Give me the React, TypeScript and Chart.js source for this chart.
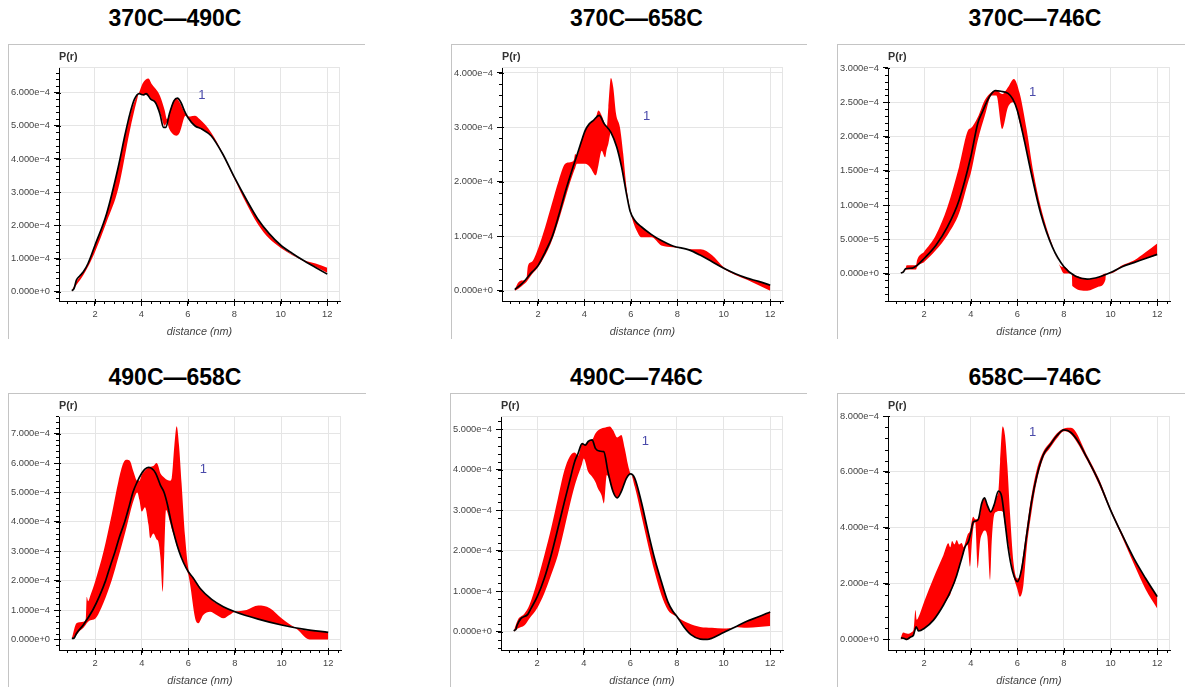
import React, { useEffect, useRef } from 'react';
import { Chart, registerables } from 'chart.js';
Chart.register(...registerables);

const FONT = '"Liberation Sans", Arial, Helvetica, sans-serif';
const UNIT = 1e-4; // values below are in units of 1e-4

const X_MIN = 0.45;
const X_MAX = 12.55;
const X_TICKS = [2, 4, 6, 8, 10, 12];
const X_LABEL = 'distance (nm)';
const Y_LABEL = 'P(r)';
const MARK_TEXT = '1';

// ---------- 370C—490C ----------
const P1_TITLE = '370C\u2014490C';
const P1_LINE_X = [1.0, 1.1, 1.2, 1.35, 1.5, 1.7, 2.0, 2.5, 3.0, 3.3, 3.5, 3.7, 3.9, 4.0, 4.1, 4.2, 4.4, 4.6, 4.8, 4.95, 5.05, 5.2, 5.4, 5.55, 5.7, 5.85, 6.0, 6.3, 6.6, 7.0, 7.5, 8.0, 8.5, 9.0, 9.5, 10, 10.5, 11, 11.5, 12];
const P1_LINE_Y = [0.03, 0.1, 0.35, 0.48, 0.6, 0.85, 1.4, 2.35, 3.75, 4.75, 5.35, 5.8, 5.97, 5.94, 5.93, 5.97, 5.8, 5.7, 5.35, 4.95, 4.95, 5.35, 5.75, 5.83, 5.7, 5.45, 5.25, 5.0, 4.9, 4.7, 4.15, 3.45, 2.8, 2.2, 1.75, 1.4, 1.15, 0.93, 0.73, 0.53];
const P1_BAND_X = [1.0, 1.2, 1.5, 1.7, 2.0, 2.5, 3.0, 3.5, 3.8, 3.9, 4.05, 4.3, 4.45, 4.6, 4.8, 5.0, 5.1, 5.2, 5.35, 5.5, 5.65, 5.9, 6.1, 6.3, 6.5, 7.0, 7.5, 8.0, 8.5, 9.0, 9.5, 10, 10.5, 11, 11.5, 12];
const P1_BAND_HI = [0.03, 0.3, 0.6, 0.85, 1.4, 2.35, 3.75, 5.3, 5.9, 6.0, 6.27, 6.42, 6.25, 6.12, 5.9, 5.47, 5.2, 5.35, 5.7, 5.82, 5.7, 5.35, 5.28, 5.3, 5.2, 4.8, 4.18, 3.45, 2.78, 2.18, 1.72, 1.38, 1.12, 0.95, 0.85, 0.72];
const P1_BAND_LO = [0.0, 0.2, 0.5, 0.75, 1.2, 2.1, 3.1, 4.85, 5.75, 5.97, 5.94, 5.9, 5.8, 5.7, 5.4, 5.0, 5.1, 4.9, 4.75, 4.7, 4.8, 5.3, 5.15, 5.0, 4.92, 4.7, 4.12, 3.4, 2.68, 2.05, 1.6, 1.32, 1.1, 0.92, 0.75, 0.57];
const P1_Y_TICKS = [0, 1, 2, 3, 4, 5, 6];
const P1_Y_MIN = -0.28;
const P1_Y_MAX = 6.77;
const P1_MARK = [6.6, 5.92];

// ---------- 370C—658C ----------
const P2_TITLE = '370C\u2014658C';
const P2_LINE_X = [1.0, 1.31, 1.74, 2.0, 2.31, 2.6, 2.89, 3.17, 3.46, 3.67, 3.86, 4.03, 4.2, 4.39, 4.63, 4.86, 5.14, 5.39, 5.6, 5.81, 5.96, 6.17, 6.46, 6.89, 7.31, 7.81, 8.5, 9.0, 9.5, 10, 10.5, 11, 11.5, 12];
const P2_LINE_Y = [0.02, 0.13, 0.34, 0.46, 0.71, 0.98, 1.38, 1.81, 2.21, 2.48, 2.73, 2.94, 3.06, 3.13, 3.22, 3.06, 2.91, 2.64, 2.27, 1.78, 1.47, 1.29, 1.17, 1.03, 0.92, 0.82, 0.75, 0.65, 0.53, 0.41, 0.31, 0.23, 0.17, 0.1];
const P2_BAND_X = [1.0, 1.17, 1.39, 1.5, 1.57, 1.74, 2.0, 2.31, 2.6, 2.89, 3.17, 3.39, 3.55, 3.6, 3.67, 3.86, 4.03, 4.24, 4.49, 4.6, 4.74, 4.89, 4.96, 5.03, 5.14, 5.24, 5.36, 5.53, 5.67, 5.81, 6.0, 6.24, 6.46, 6.89, 7.31, 7.81, 8.5, 9.0, 9.5, 10, 10.5, 11, 11.5, 12];
const P2_BAND_HI = [0.02, 0.16, 0.19, 0.22, 0.46, 0.53, 0.77, 1.17, 1.6, 2.02, 2.33, 2.36, 2.4, 2.51, 2.48, 2.73, 2.94, 3.07, 3.18, 3.31, 3.22, 3.05, 3.0, 3.37, 3.91, 3.74, 3.25, 3.0, 2.51, 1.9, 1.45, 1.26, 1.17, 1.03, 0.92, 0.82, 0.76, 0.76, 0.65, 0.43, 0.31, 0.23, 0.17, 0.1];
const P2_BAND_LO = [0.0, 0.04, 0.12, 0.16, 0.2, 0.3, 0.43, 0.65, 0.92, 1.29, 1.69, 2.0, 2.2, 2.25, 2.33, 2.33, 2.33, 2.27, 2.12, 2.3, 2.57, 2.45, 2.6, 2.7, 2.91, 2.8, 2.68, 2.4, 2.1, 1.78, 1.4, 1.11, 0.98, 0.98, 0.83, 0.8, 0.75, 0.65, 0.53, 0.4, 0.29, 0.2, 0.1, 0.0];
const P2_Y_TICKS = [0, 1, 2, 3, 4];
const P2_Y_MIN = -0.19;
const P2_Y_MAX = 4.11;
const P2_MARK = [6.68, 3.2];

// ---------- 370C—746C ----------
const P3_TITLE = '370C\u2014746C';
const P3_LINE_X = [1.0, 1.1, 1.2, 1.5, 1.7, 2.0, 2.5, 3.0, 3.5, 4.0, 4.3, 4.5, 4.8, 5.05, 5.3, 5.6, 5.8, 6.0, 6.3, 6.6, 7.0, 7.5, 8.0, 8.5, 9.0, 9.5, 10, 10.5, 11, 11.5, 12];
const P3_LINE_Y = [0.01, 0.02, 0.07, 0.08, 0.12, 0.22, 0.41, 0.68, 1.07, 1.7, 2.19, 2.36, 2.58, 2.67, 2.66, 2.63, 2.55, 2.38, 1.94, 1.46, 0.88, 0.39, 0.1, -0.04, -0.08, -0.05, 0.015, 0.1, 0.16, 0.22, 0.28];
const P3_BAND_X = [1.0, 1.2, 1.25, 1.65, 1.7, 2.0, 2.5, 3.0, 3.5, 3.9, 4.0, 4.3, 4.6, 4.9, 5.1, 5.35, 5.6, 5.85, 6.1, 6.4, 6.7, 7.0, 7.5, 7.9, 8.0, 8.3, 8.34, 8.36, 9.0, 9.5, 9.78, 9.8, 10, 10.2, 10.5, 11, 11.5, 12];
const P3_BAND_HI = [0.01, 0.07, 0.12, 0.12, 0.2, 0.32, 0.56, 0.97, 1.56, 2.1, 2.12, 2.28, 2.53, 2.65, 2.67, 2.62, 2.72, 2.84, 2.63, 2.1, 1.46, 0.98, 0.42, 0.1, 0.1, 0.0, -0.02, -0.02, -0.08, -0.05, 0.0, 0.0, 0.015, 0.05, 0.12, 0.19, 0.31, 0.44];
const P3_BAND_LO = [0.0, 0.05, 0.06, 0.06, 0.1, 0.17, 0.34, 0.56, 0.88, 1.35, 1.46, 1.94, 2.3, 2.6, 2.6, 2.11, 2.43, 2.5, 2.2, 1.8, 1.3, 0.88, 0.39, 0.05, 0.0, 0.0, -0.02, -0.18, -0.25, -0.19, -0.09, 0.0, 0.0, 0.03, 0.1, 0.16, 0.22, 0.27];
const P3_Y_TICKS = [0, 0.5, 1, 1.5, 2, 2.5, 3];
const P3_Y_MIN = -0.4;
const P3_Y_MAX = 3.014;
const P3_MARK = [6.66, 2.65];

// ---------- 490C—658C ----------
const P4_TITLE = '490C\u2014658C';
const P4_LINE_X = [1.0, 1.1, 1.15, 1.2, 1.5, 1.9, 2.2, 2.45, 2.65, 2.86, 3.05, 3.27, 3.45, 3.62, 3.8, 4.0, 4.15, 4.3, 4.45, 4.6, 4.8, 4.96, 5.1, 5.26, 5.43, 5.6, 5.8, 6.0, 6.2, 6.5, 7.0, 7.5, 8.0, 9.0, 10, 11, 12];
const P4_LINE_Y = [0.03, 0.05, 0.12, 0.2, 0.5, 1.0, 1.5, 2.0, 2.5, 3.0, 3.5, 4.0, 4.5, 5.0, 5.35, 5.65, 5.8, 5.85, 5.8, 5.65, 5.25, 5.0, 4.6, 4.0, 3.45, 3.0, 2.6, 2.3, 2.1, 1.74, 1.36, 1.11, 0.94, 0.69, 0.49, 0.34, 0.24];
const P4_BAND_X = [1.0, 1.2, 1.35, 1.5, 1.6, 1.64, 1.7, 1.8, 2.0, 2.36, 2.71, 3.0, 3.21, 3.36, 3.5, 3.64, 3.81, 3.9, 4.0, 4.14, 4.29, 4.36, 4.5, 4.64, 4.71, 4.8, 4.9, 4.97, 5.04, 5.21, 5.29, 5.4, 5.5, 5.6, 5.71, 5.86, 6.0, 6.07, 6.29, 6.43, 6.64, 6.93, 7.21, 7.5, 7.8, 8.0, 8.5, 9.0, 9.5, 10, 10.6, 11.2, 12];
const P4_BAND_HI = [0.03, 0.55, 0.58, 0.6, 0.7, 1.45, 1.3, 1.5, 1.97, 2.99, 4.24, 5.38, 6.0, 6.11, 6.06, 5.72, 5.4, 5.4, 5.6, 5.75, 5.85, 5.87, 5.9, 6.0, 5.9, 5.65, 5.55, 5.5, 5.45, 5.4, 5.5, 6.6, 7.25, 6.6, 5.3, 3.5, 2.4, 2.25, 2.0, 1.85, 1.6, 1.4, 1.22, 1.11, 1.0, 0.95, 1.0, 1.15, 1.06, 0.72, 0.4, 0.3, 0.24];
const P4_BAND_LO = [0.0, 0.15, 0.3, 0.4, 0.5, 0.55, 0.6, 0.65, 0.7, 1.25, 2.0, 2.8, 3.4, 3.85, 4.3, 4.7, 5.0, 4.75, 4.35, 4.5, 3.9, 3.44, 3.6, 3.4, 3.33, 2.8, 1.62, 3.0, 4.4, 4.0, 3.75, 3.5, 3.2, 3.0, 2.8, 2.5, 2.2, 1.9, 0.72, 0.55, 0.83, 0.94, 0.83, 0.72, 0.85, 0.93, 0.81, 0.69, 0.58, 0.49, 0.38, 0.0, 0.0];
const P4_Y_TICKS = [0, 1, 2, 3, 4, 5, 6, 7];
const P4_Y_MIN = -0.36;
const P4_Y_MAX = 7.6;
const P4_MARK = [6.64, 5.79];

// ---------- 490C—746C ----------
const P5_TITLE = '490C\u2014746C';
const P5_LINE_X = [1.0, 1.03, 1.08, 1.14, 1.31, 1.6, 1.74, 2.0, 2.31, 2.6, 2.89, 3.17, 3.39, 3.61, 3.76, 3.93, 4.07, 4.19, 4.36, 4.5, 4.69, 4.86, 5.04, 5.26, 5.44, 5.61, 5.83, 6.01, 6.19, 6.47, 6.76, 7.04, 7.33, 7.61, 7.83, 8.0, 8.3, 8.6, 9.0, 9.3, 9.5, 10, 10.5, 11, 11.5, 12];
const P5_LINE_Y = [0.02, 0.04, 0.05, 0.16, 0.33, 0.43, 0.58, 0.86, 1.32, 1.89, 2.55, 3.21, 3.71, 4.2, 4.41, 4.65, 4.61, 4.7, 4.74, 4.53, 4.46, 4.45, 3.95, 3.46, 3.31, 3.46, 3.79, 3.9, 3.79, 3.21, 2.47, 1.81, 1.24, 0.74, 0.5, 0.38, 0.12, -0.07, -0.18, -0.19, -0.16, -0.02, 0.12, 0.26, 0.37, 0.49];
const P5_BAND_X = [1.0, 1.17, 1.46, 1.67, 2.0, 2.31, 2.6, 2.89, 3.17, 3.39, 3.61, 3.76, 3.93, 4.0, 4.19, 4.36, 4.5, 4.61, 4.76, 4.87, 4.99, 5.11, 5.26, 5.44, 5.61, 5.76, 5.9, 6.01, 6.19, 6.47, 6.76, 7.04, 7.33, 7.61, 7.9, 8.0, 8.5, 9.0, 9.5, 10, 10.5, 11, 12];
const P5_BAND_HI = [0.02, 0.29, 0.45, 0.66, 1.24, 1.89, 2.55, 3.29, 3.99, 4.32, 4.43, 4.35, 4.65, 4.62, 4.7, 4.74, 4.9, 4.97, 5.02, 5.04, 5.06, 5.07, 4.98, 4.8, 4.86, 4.53, 4.12, 3.9, 3.79, 3.21, 2.47, 1.81, 1.24, 0.74, 0.45, 0.38, 0.21, 0.12, 0.1, 0.08, 0.12, 0.26, 0.49];
const P5_BAND_LO = [0.0, 0.08, 0.16, 0.33, 0.58, 0.95, 1.4, 1.89, 2.55, 3.1, 3.6, 3.87, 4.15, 4.28, 3.95, 3.83, 3.7, 3.54, 3.38, 3.17, 3.87, 3.75, 3.46, 3.31, 3.46, 3.7, 3.85, 3.9, 3.58, 2.88, 2.14, 1.48, 0.91, 0.54, 0.4, 0.36, -0.02, -0.18, -0.16, -0.02, 0.12, 0.1, 0.14];
const P5_Y_TICKS = [0, 1, 2, 3, 4, 5];
const P5_Y_MIN = -0.45;
const P5_Y_MAX = 5.33;
const P5_MARK = [6.64, 4.71];

// ---------- 658C—746C ----------
const P6_TITLE = '658C\u2014746C';
const P6_LINE_X = [1.0, 1.15, 1.26, 1.4, 1.54, 1.66, 1.76, 2.0, 2.4, 2.83, 3.19, 3.4, 3.61, 3.76, 3.9, 4.0, 4.11, 4.23, 4.33, 4.47, 4.59, 4.71, 4.86, 5.0, 5.19, 5.33, 5.47, 5.61, 5.8, 6.0, 6.19, 6.4, 6.61, 6.83, 7.11, 7.4, 7.7, 8.0, 8.3, 8.6, 9.0, 9.5, 10, 10.5, 11, 11.5, 12];
const P6_LINE_Y = [0.06, 0.03, 0.0, 0.08, 0.15, 0.45, 0.3, 0.39, 0.69, 1.23, 1.83, 2.3, 2.9, 3.32, 3.5, 3.8, 4.21, 4.24, 4.31, 4.87, 5.07, 4.81, 4.57, 4.81, 5.31, 5.11, 4.21, 3.26, 2.42, 2.07, 2.54, 3.74, 4.93, 5.83, 6.6, 6.96, 7.3, 7.5, 7.41, 7.1, 6.48, 5.65, 4.63, 3.74, 2.9, 2.19, 1.53];
const P6_BAND_X = [1.0, 1.1, 1.2, 1.3, 1.45, 1.55, 1.63, 1.68, 1.76, 2.0, 2.4, 2.83, 3.04, 3.12, 3.2, 3.3, 3.4, 3.5, 3.61, 3.7, 3.76, 3.86, 3.97, 4.06, 4.11, 4.19, 4.3, 4.4, 4.5, 4.59, 4.71, 4.83, 4.9, 5.0, 5.11, 5.19, 5.26, 5.37, 5.47, 5.57, 5.69, 5.83, 6.0, 6.11, 6.26, 6.4, 6.61, 6.83, 7.11, 7.4, 7.7, 8.0, 8.3, 9.0, 9.5, 10, 10.5, 11, 11.5, 12];
const P6_BAND_HI = [0.06, 0.25, 0.22, 0.2, 0.25, 0.35, 1.05, 0.7, 0.8, 1.35, 2.19, 3.02, 3.44, 3.3, 3.52, 3.4, 3.56, 3.4, 3.45, 3.3, 3.45, 3.74, 3.9, 4.3, 4.39, 4.3, 4.31, 4.5, 4.95, 5.07, 4.81, 4.6, 4.6, 4.81, 5.1, 5.31, 6.36, 7.62, 7.3, 6.24, 4.45, 2.78, 2.18, 2.3, 3.1, 3.98, 5.17, 6.07, 6.72, 7.05, 7.38, 7.55, 7.58, 6.58, 5.75, 4.7, 3.8, 2.9, 2.19, 1.53];
const P6_BAND_LO = [0.0, 0.03, 0.0, 0.0, 0.08, 0.15, 0.4, 0.4, 0.3, 0.39, 0.69, 1.23, 1.5, 1.6, 1.83, 2.0, 2.3, 2.55, 2.9, 3.1, 3.32, 3.4, 2.6, 3.6, 4.0, 4.2, 2.54, 3.5, 3.8, 3.9, 3.7, 2.13, 3.5, 4.45, 4.57, 4.6, 4.6, 4.57, 4.1, 3.6, 3.0, 2.3, 1.8, 1.53, 1.95, 3.26, 4.57, 5.65, 6.48, 6.85, 7.2, 7.45, 7.35, 6.4, 5.55, 4.58, 3.65, 2.7, 1.8, 1.11];
const P6_Y_TICKS = [0, 2, 4, 6, 8];
const P6_Y_MIN = -0.38;
const P6_Y_MAX = 8.0;
const P6_MARK = [6.66, 7.4];

type PanelCfg = {
  title: string;
  lineX: number[]; lineY: number[];
  bandX: number[]; bandHi: number[]; bandLo: number[];
  yTicks: number[]; yMin: number; yMax: number; mark: number[];
  frameLeft: number; frameTop: number; frameW: number; frameH: number;
  boxLeft: number; boxTop: number; boxW: number; boxH: number;
  titleCx: number; titleTop: number;
};

const YW = 58;  // y axis box width
const PT = 24;  // top padding
const PR = 12;  // right padding
const XH = 40;  // x axis box height

function fmtExp(v: number): string {
  return v.toExponential(3).replace('-', '\u2212');
}

function Panel({ cfg }: { cfg: PanelCfg }) {
  const ref = useRef<HTMLCanvasElement>(null);
  const W = YW + cfg.frameW + PR;
  const H = PT + cfg.frameH + XH;
  useEffect(() => {
    const canvas = ref.current;
    if (!canvas) return;
    const yMajor = cfg.yTicks.map(v => v * UNIT);
    const yStep = (yMajor[1] - yMajor[0]) / 5;
    const xStep = (X_TICKS[1] - X_TICKS[0]) / 5;
    const decor = {
      id: 'decor',
      beforeDatasetsDraw(chart: any) {
        const { ctx, chartArea: ca } = chart;
        ctx.save();
        ctx.strokeStyle = '#e5e5e5';
        ctx.lineWidth = 1;
        ctx.beginPath();
        ctx.moveTo(ca.left, Math.round(ca.top) + 0.5);
        ctx.lineTo(ca.right, Math.round(ca.top) + 0.5);
        ctx.moveTo(Math.round(ca.right) - 0.5, ca.top);
        ctx.lineTo(Math.round(ca.right) - 0.5, ca.bottom);
        ctx.stroke();
        ctx.restore();
      },
      afterDraw(chart: any) {
        const { ctx, chartArea: ca, scales } = chart;
        const xs = scales.x, ys = scales.y;
        ctx.save();
        ctx.strokeStyle = '#000';
        ctx.lineWidth = 1;
        ctx.beginPath();
        const xMinorStart = X_TICKS[0] - Math.floor((X_TICKS[0] - X_MIN) / xStep) * xStep;
        for (let i = 0; ; i++) {
          const v = xMinorStart + i * xStep;
          if (v > X_MAX + 1e-9) break;
          const px = Math.round(xs.getPixelForValue(v)) + 0.5;
          const isMajor = X_TICKS.some(t => Math.abs(t - v) < 1e-6);
          ctx.moveTo(px, ca.bottom - (isMajor ? 2 : 0));
          ctx.lineTo(px, ca.bottom + 3);
        }
        const yMinorStart = yMajor[0] - Math.floor((yMajor[0] - cfg.yMin * UNIT) / yStep) * yStep;
        for (let i = 0; ; i++) {
          const v = yMinorStart + i * yStep;
          if (v > cfg.yMax * UNIT + 1e-12) break;
          const py = Math.round(ys.getPixelForValue(v)) + 0.5;
          const isMajor = yMajor.some(t => Math.abs(t - v) < 1e-10);
          ctx.moveTo(ca.left + (isMajor ? 2 : 0), py);
          ctx.lineTo(ca.left - 3, py);
        }
        ctx.stroke();
        ctx.fillStyle = '#333';
        ctx.font = `bold 10.8px ${FONT}`;
        ctx.textAlign = 'left';
        ctx.textBaseline = 'middle';
        ctx.fillText(Y_LABEL, ca.left, ca.top - 10);
        ctx.fillStyle = '#4a4aaa';
        ctx.font = `13px ${FONT}`;
        ctx.textAlign = 'center';
        ctx.textBaseline = 'middle';
        ctx.fillText(MARK_TEXT, xs.getPixelForValue(cfg.mark[0]), ys.getPixelForValue(cfg.mark[1] * UNIT));
        ctx.restore();
      },
    };
    const chart = new Chart(canvas, {
      type: 'line',
      data: {
        datasets: [
          {
            data: cfg.lineX.map((x, i) => ({ x, y: cfg.lineY[i] * UNIT })),
            borderColor: '#000000',
            borderWidth: 1.7,
            pointRadius: 0,
            fill: false,
            cubicInterpolationMode: 'monotone',
          },
          {
            data: cfg.bandX.map((x, i) => ({ x, y: cfg.bandLo[i] * UNIT })),
            borderColor: 'rgba(0,0,0,0)',
            borderWidth: 0,
            pointRadius: 0,
            fill: false,
            cubicInterpolationMode: 'monotone',
          },
          {
            data: cfg.bandX.map((x, i) => ({ x, y: cfg.bandHi[i] * UNIT })),
            borderColor: 'rgba(0,0,0,0)',
            backgroundColor: '#ff0000',
            borderWidth: 0,
            pointRadius: 0,
            fill: '-1',
            cubicInterpolationMode: 'monotone',
          },
        ],
      },
      options: {
        animation: false,
        responsive: false,
        maintainAspectRatio: false,
        devicePixelRatio: 1,
        events: [],
        layout: { padding: { top: PT, right: PR, left: 0, bottom: 0 } },
        plugins: { legend: { display: false }, tooltip: { enabled: false }, title: { display: false } },
        scales: {
          x: {
            type: 'linear',
            min: X_MIN,
            max: X_MAX,
            afterBuildTicks: (s: any) => { s.ticks = X_TICKS.map(v => ({ value: v })); },
            afterFit: (s: any) => { s.height = XH; },
            ticks: {
              font: { family: FONT, size: 9.3 },
              color: '#444',
              padding: 3,
              maxRotation: 0,
              autoSkip: false,
              callback: (v: any) => String(v),
            },
            grid: { color: '#e5e5e5', tickColor: '#000', tickLength: 5, lineWidth: 1 },
            border: { color: '#000', width: 1 },
            title: {
              display: true,
              text: X_LABEL,
              color: '#444',
              font: { family: FONT, size: 10.8, style: 'italic' },
              padding: { top: 0, bottom: 3 },
            },
          },
          y: {
            type: 'linear',
            min: cfg.yMin * UNIT,
            max: cfg.yMax * UNIT,
            afterBuildTicks: (s: any) => { s.ticks = yMajor.map(v => ({ value: v })); },
            afterFit: (s: any) => { s.width = YW; },
            ticks: {
              font: { family: FONT, size: 9.3 },
              color: '#444',
              padding: 4,
              autoSkip: false,
              callback: (v: any) => fmtExp(Number(v)),
            },
            grid: { color: '#e5e5e5', tickColor: '#000', tickLength: 5, lineWidth: 1 },
            border: { color: '#000', width: 1 },
          },
        },
      },
      plugins: [decor],
    } as any);
    return () => chart.destroy();
  }, [cfg]);

  return (
    <>
      <div
        style={{
          position: 'absolute',
          left: cfg.boxLeft,
          top: cfg.boxTop,
          width: cfg.boxW,
          height: cfg.boxH,
          borderLeft: '1px solid #c4c4c4',
          borderTop: '1px solid #c4c4c4',
          boxSizing: 'border-box',
        }}
      />
      <div
        style={{
          position: 'absolute',
          left: cfg.titleCx - 150,
          top: cfg.titleTop,
          width: 300,
          textAlign: 'center',
          font: `bold 23px ${FONT}`,
          lineHeight: '23px',
          color: '#000',
          whiteSpace: 'nowrap',
        }}
      >
        {cfg.title}
      </div>
      <canvas
        ref={ref}
        width={W}
        height={H}
        style={{ position: 'absolute', left: cfg.frameLeft - YW, top: cfg.frameTop - PT, width: W, height: H }}
      />
    </>
  );
}

const ROW1_TOP = 67;
const ROW2_TOP = 416;

const PANELS: PanelCfg[] = [
  {
    title: P1_TITLE, lineX: P1_LINE_X, lineY: P1_LINE_Y, bandX: P1_BAND_X, bandHi: P1_BAND_HI, bandLo: P1_BAND_LO,
    yTicks: P1_Y_TICKS, yMin: P1_Y_MIN, yMax: P1_Y_MAX, mark: P1_MARK,
    frameLeft: 59, frameTop: ROW1_TOP, frameW: 281, frameH: 234,
    boxLeft: 8, boxTop: 44, boxW: 357, boxH: 295, titleCx: 175, titleTop: 7,
  },
  {
    title: P2_TITLE, lineX: P2_LINE_X, lineY: P2_LINE_Y, bandX: P2_BAND_X, bandHi: P2_BAND_HI, bandLo: P2_BAND_LO,
    yTicks: P2_Y_TICKS, yMin: P2_Y_MIN, yMax: P2_Y_MAX, mark: P2_MARK,
    frameLeft: 502, frameTop: ROW1_TOP, frameW: 281, frameH: 234,
    boxLeft: 451, boxTop: 44, boxW: 356, boxH: 295, titleCx: 636.5, titleTop: 7,
  },
  {
    title: P3_TITLE, lineX: P3_LINE_X, lineY: P3_LINE_Y, bandX: P3_BAND_X, bandHi: P3_BAND_HI, bandLo: P3_BAND_LO,
    yTicks: P3_Y_TICKS, yMin: P3_Y_MIN, yMax: P3_Y_MAX, mark: P3_MARK,
    frameLeft: 888, frameTop: ROW1_TOP, frameW: 282, frameH: 234,
    boxLeft: 837, boxTop: 44, boxW: 360, boxH: 295, titleCx: 1035, titleTop: 7,
  },
  {
    title: P4_TITLE, lineX: P4_LINE_X, lineY: P4_LINE_Y, bandX: P4_BAND_X, bandHi: P4_BAND_HI, bandLo: P4_BAND_LO,
    yTicks: P4_Y_TICKS, yMin: P4_Y_MIN, yMax: P4_Y_MAX, mark: P4_MARK,
    frameLeft: 59, frameTop: ROW2_TOP, frameW: 282, frameH: 234,
    boxLeft: 8, boxTop: 393, boxW: 358, boxH: 300, titleCx: 175, titleTop: 365.5,
  },
  {
    title: P5_TITLE, lineX: P5_LINE_X, lineY: P5_LINE_Y, bandX: P5_BAND_X, bandHi: P5_BAND_HI, bandLo: P5_BAND_LO,
    yTicks: P5_Y_TICKS, yMin: P5_Y_MIN, yMax: P5_Y_MAX, mark: P5_MARK,
    frameLeft: 501, frameTop: ROW2_TOP, frameW: 282, frameH: 234,
    boxLeft: 450, boxTop: 393, boxW: 357, boxH: 300, titleCx: 636.5, titleTop: 365.5,
  },
  {
    title: P6_TITLE, lineX: P6_LINE_X, lineY: P6_LINE_Y, bandX: P6_BAND_X, bandHi: P6_BAND_HI, bandLo: P6_BAND_LO,
    yTicks: P6_Y_TICKS, yMin: P6_Y_MIN, yMax: P6_Y_MAX, mark: P6_MARK,
    frameLeft: 888, frameTop: ROW2_TOP, frameW: 282, frameH: 234,
    boxLeft: 837, boxTop: 393, boxW: 360, boxH: 300, titleCx: 1035, titleTop: 365.5,
  },
];

export default function App() {
  return (
    <div
      style={{
        position: 'absolute',
        left: 0,
        top: 0,
        width: 1185,
        height: 687,
        background: '#ffffff',
        overflow: 'hidden',
      }}
    >
      {PANELS.map((p, i) => (
        <Panel key={i} cfg={p} />
      ))}
    </div>
  );
}
